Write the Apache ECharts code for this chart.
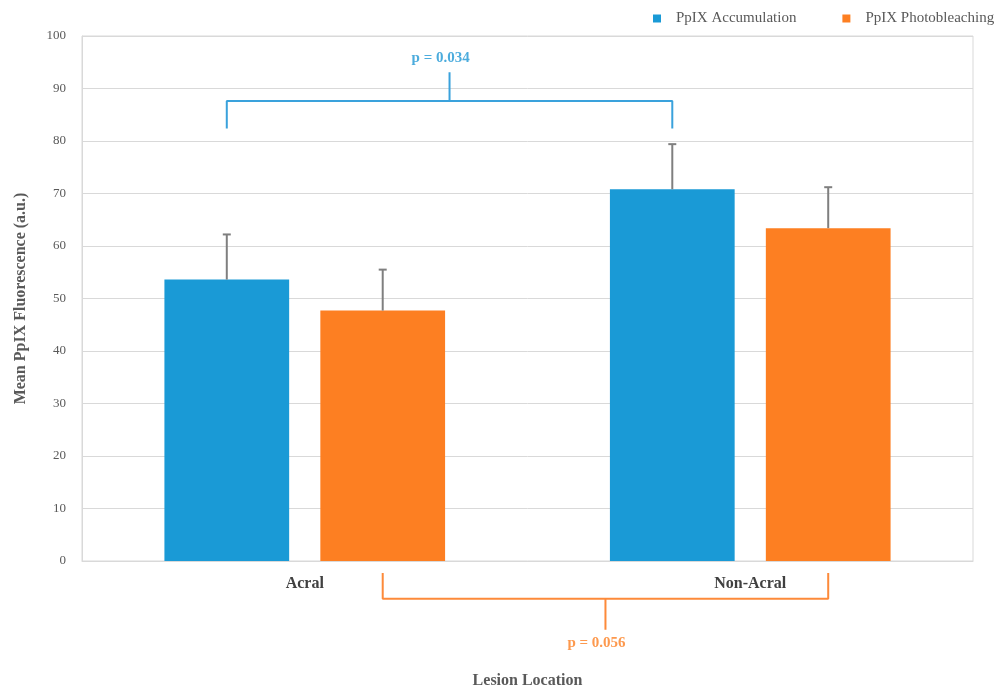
<!DOCTYPE html>
<html>
<head>
<meta charset="utf-8">
<title>Mean PpIX Fluorescence by Lesion Location</title>
<script src="https://cdn.jsdelivr.net/npm/echarts@6/dist/echarts.min.js"></script>
<style>
  html, body { margin: 0; padding: 0; background: #ffffff; }
  #chart { width: 995px; height: 689px; }
</style>
</head>
<body>
<div id="chart"></div>
<script>
// ---- data ----
const categories = ['Acral', 'Non-Acral'];
const seriesNames = ['PpIX Accumulation', 'PpIX Photobleaching'];
const accumulation = [53.6, 70.8];
const photobleaching = [47.7, 63.4];
const accumulationErr = [8.6, 8.6];
const photobleachingErr = [7.8, 7.8];
const yTicks = [0, 10, 20, 30, 40, 50, 60, 70, 80, 90, 100];

// significance brackets: [end height, bar height, stem tip, label height]
const pAccumulation = 'p = 0.034';
const pPhotobleaching = 'p = 0.056';
const bracketAccumulation = [82.4, 87.6, 93.1, 95.8];
const bracketPhotobleaching = [-2.3, -7.2, -13.1, -15.6];

// ---- layout constants ----
const BLUE = '#1a9ad6';
const ORANGE = '#fd7f22';
const BAR_W = 0.28;      // bar width as fraction of category band
const BAR_GAP = 0.25;    // gap between bars as fraction of bar width
const OFFSET = BAR_W * (1 + BAR_GAP) / 2; // centre offset of each bar from band centre
const SERIF = '"Liberation Serif", "DejaVu Serif", serif';
const TEXT = '#595959';

// x positions on a 0..2 value scale (category i spans [i, i+1])
function barX(catIdx, seriesIdx) {
  return catIdx + 0.5 + (seriesIdx === 0 ? -OFFSET : OFFSET);
}
function bracketPath(seriesIdx, levels) {
  const l = barX(0, seriesIdx), r = barX(1, seriesIdx), m = (l + r) / 2;
  const [end, bar, tip] = levels;
  return [[l, end], [l, bar], [m, bar], [m, tip], [m, bar], [r, bar], [r, end]];
}

function errorSeries(name, values, errs, seriesIdx) {
  return {
    type: 'custom',
    name: name + ' error',
    xAxisIndex: 0,
    z: 5,
    silent: true,
    data: values.map((v, i) => [i, v, errs[i]]),
    encode: { x: 0, y: 1 },
    renderItem: function (params, api) {
      const idx = api.value(0), v = api.value(1), e = api.value(2);
      const band = api.size([1, 0])[0];
      const base = api.coord([idx, v]);
      const top = api.coord([idx, v + e]);
      const x = base[0] + (seriesIdx === 0 ? -OFFSET : OFFSET) * band;
      const style = { stroke: '#7f7f7f', lineWidth: 2 };
      return {
        type: 'group',
        children: [
          { type: 'line', shape: { x1: x, y1: base[1], x2: x, y2: top[1] }, style: style },
          { type: 'line', shape: { x1: x - 4, y1: top[1], x2: x + 4, y2: top[1] }, style: style }
        ]
      };
    }
  };
}

const chart = echarts.init(document.getElementById('chart'), null, { renderer: 'canvas' });

const option = {
  backgroundColor: '#ffffff',
  animation: false,
  color: [BLUE, ORANGE],
  legend: {
    data: seriesNames,
    left: 653,
    top: 11,
    padding: 0,
    icon: 'rect',
    itemWidth: 8,
    itemHeight: 8,
    itemGap: 46,
    textStyle: { fontFamily: SERIF, fontSize: 15, color: TEXT, padding: [0, 0, 0, 10] }
  },
  grid: {
    left: 82, right: 22, top: 36, bottom: 128,
    outerBoundsMode: 'none',
    show: true, borderColor: '#d9d9d9', borderWidth: 1
  },
  xAxis: [
    {
      type: 'category',
      data: categories,
      axisLine: { show: true, lineStyle: { color: '#d9d9d9' } },
      axisTick: { show: false },
      axisLabel: {
        fontFamily: SERIF, fontSize: 16, fontWeight: 'bold', color: '#404040', margin: 15
      },
      name: 'Lesion Location',
      nameLocation: 'middle',
      nameGap: 112,
      nameTextStyle: { fontFamily: SERIF, fontSize: 16, fontWeight: 'bold', color: TEXT }
    },
    { type: 'value', min: 0, max: 2, show: false }
  ],
  yAxis: {
    type: 'value',
    min: yTicks[0],
    max: yTicks[yTicks.length - 1],
    interval: yTicks[1] - yTicks[0],
    axisLine: { show: true, lineStyle: { color: '#d9d9d9' } },
    axisTick: { show: false },
    splitLine: { lineStyle: { color: '#d9d9d9', width: 1 } },
    axisLabel: { fontFamily: SERIF, fontSize: 13, color: TEXT, margin: 16 },
    name: 'Mean PpIX Fluorescence (a.u.)',
    nameLocation: 'middle',
    nameGap: 53,
    nameTextStyle: { fontFamily: SERIF, fontSize: 16, fontWeight: 'bold', color: TEXT }
  },
  series: [
    {
      name: seriesNames[0], type: 'bar', data: accumulation,
      barWidth: (BAR_W * 100) + '%', barGap: (BAR_GAP * 100) + '%',
      itemStyle: { color: BLUE }
    },
    {
      name: seriesNames[1], type: 'bar', data: photobleaching,
      barWidth: (BAR_W * 100) + '%', barGap: (BAR_GAP * 100) + '%',
      itemStyle: { color: ORANGE }
    },
    errorSeries(seriesNames[0], accumulation, accumulationErr, 0),
    errorSeries(seriesNames[1], photobleaching, photobleachingErr, 1),
    {
      type: 'line', xAxisIndex: 1, clip: false, silent: true, symbol: 'none', z: 6,
      data: bracketPath(0, bracketAccumulation),
      lineStyle: { color: '#3aa2dc', width: 2 }
    },
    {
      type: 'line', xAxisIndex: 1, clip: false, silent: true, symbol: 'none', z: 6,
      data: bracketPath(1, bracketPhotobleaching),
      lineStyle: { color: '#fd8a3a', width: 2 }
    },
    {
      type: 'scatter', xAxisIndex: 1, clip: false, silent: true, symbolSize: 0, z: 7,
      data: [
        { value: [(barX(0, 0) + barX(1, 0)) / 2 - 0.02, bracketAccumulation[3]], label: { formatter: pAccumulation, color: '#1f97d4' } },
        { value: [(barX(0, 1) + barX(1, 1)) / 2 - 0.02, bracketPhotobleaching[3]], label: { formatter: pPhotobleaching, color: '#fd7f22' } }
      ],
      label: {
        show: true, position: 'inside',
        fontFamily: SERIF, fontSize: 15, fontWeight: 'bold'
      }
    }
  ]
};

chart.setOption(option);
</script>
</body>
</html>
